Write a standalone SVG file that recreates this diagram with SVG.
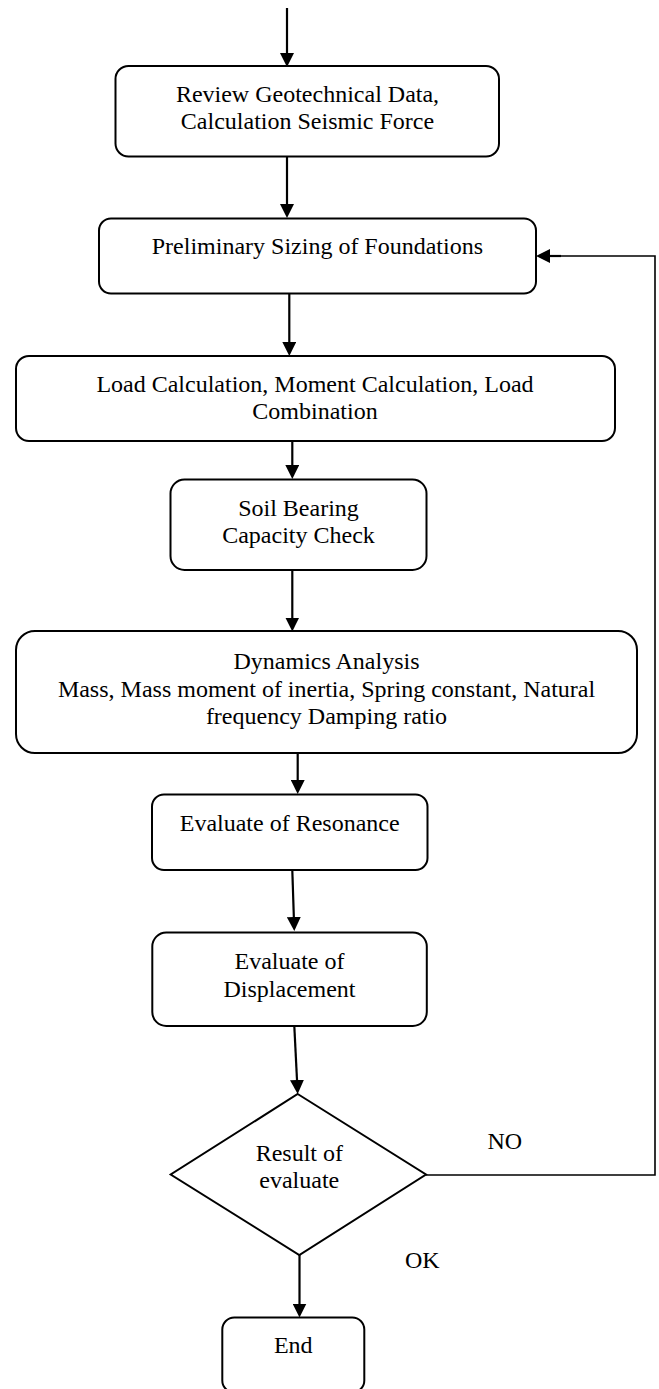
<svg xmlns="http://www.w3.org/2000/svg" width="659" height="1389" viewBox="0 0 659 1389">
<style>
.box{fill:#fff;stroke:#000;stroke-width:2}
.t{font-family:"Liberation Serif","Times New Roman",serif;font-size:24px;fill:#000;text-anchor:middle}
.lbl{font-family:"Liberation Serif","Times New Roman",serif;font-size:24px;fill:#000}
.c{fill:none;stroke:#000;stroke-width:2.2}
.fb{fill:none;stroke:#000;stroke-width:1.6}
</style>
<defs>
<marker id="ah" viewBox="0 0 14 14" refX="2" refY="7" markerWidth="14" markerHeight="14" markerUnits="userSpaceOnUse" orient="auto">
<path d="M0,0 L14,7 L0,14 z" fill="#000"/>
</marker>
</defs>
<rect width="659" height="1389" fill="#fff"/>
<g id="connectors">
<path class="c" d="M287,8 V55" marker-end="url(#ah)"/>
<path class="c" d="M287,157 V206" marker-end="url(#ah)"/>
<path class="c" d="M289.3,294 V344" marker-end="url(#ah)"/>
<path class="c" d="M292.3,441 V467" marker-end="url(#ah)"/>
<path class="c" d="M292.3,570 V619.5" marker-end="url(#ah)"/>
<path class="c" d="M297.7,753 V782" marker-end="url(#ah)"/>
<path class="c" d="M292.3,870 L293.9,919" marker-end="url(#ah)"/>
<path class="c" d="M294.3,1026 L297.1,1082" marker-end="url(#ah)"/>
<path class="c" d="M299.5,1255 V1305.5" marker-end="url(#ah)"/>
<path class="fb" d="M426,1175 H655 V256 H560"/>
<path class="c" d="M561,256 H548" marker-end="url(#ah)"/>
</g>
<g id="n1"><rect class="box" x="115.5" y="66" width="383.5" height="90.5" rx="13"/>
<text class="t" x="307.5" y="101.7">Review Geotechnical Data,</text>
<text class="t" x="307.5" y="129.3">Calculation Seismic Force</text></g>
<g id="n2"><rect class="box" x="99" y="218.5" width="437" height="75" rx="12"/>
<text class="t" x="317.4" y="254">Preliminary Sizing of Foundations</text></g>
<g id="n3"><rect class="box" x="16" y="356" width="599" height="85" rx="13"/>
<text class="t" x="315" y="391.7">Load Calculation, Moment Calculation, Load</text>
<text class="t" x="315" y="419.3">Combination</text></g>
<g id="n4"><rect class="box" x="170.5" y="479.5" width="256" height="90.5" rx="14"/>
<text class="t" x="298.5" y="516">Soil Bearing</text>
<text class="t" x="298.5" y="543.3">Capacity Check</text></g>
<g id="n5"><rect class="box" x="16" y="631" width="621" height="122" rx="19"/>
<text class="t" x="326.5" y="669.3">Dynamics Analysis</text>
<text class="t" x="326.5" y="696.7">Mass, Mass moment of inertia, Spring constant, Natural</text>
<text class="t" x="326.5" y="724.3">frequency Damping ratio</text></g>
<g id="n6"><rect class="box" x="152" y="794.5" width="275.5" height="75.5" rx="12"/>
<text class="t" x="289.7" y="830.7">Evaluate of Resonance</text></g>
<g id="n7"><rect class="box" x="152.3" y="932.5" width="274.5" height="93.5" rx="14"/>
<text class="t" x="289.5" y="969">Evaluate of</text>
<text class="t" x="289.5" y="996.7">Displacement</text></g>
<g id="n8"><polygon class="box" points="297.7,1094 426,1174.5 299.3,1255 170.7,1174.5"/>
<text class="t" x="299.3" y="1161">Result of</text>
<text class="t" x="299.3" y="1188">evaluate</text></g>
<g id="n9"><rect class="box" x="222.3" y="1317.5" width="142" height="75" rx="12"/>
<text class="t" x="293.3" y="1353">End</text></g>
<g id="labels">
<text class="lbl" x="487.5" y="1149">NO</text>
<text class="lbl" x="405" y="1268">OK</text>
</g>
</svg>
